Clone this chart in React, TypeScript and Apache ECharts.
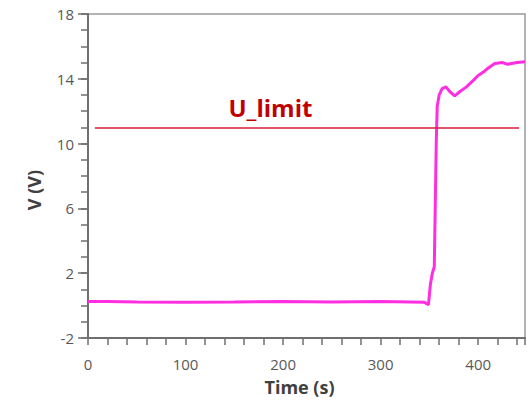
import React, { useEffect, useRef } from "react";
import * as echarts from "echarts";

const timeS = [0, 20, 50, 100, 150, 200, 250, 300, 330, 345, 349, 351, 353, 355, 357, 358, 360, 363, 367, 371, 376, 381, 388, 395, 400, 405, 410, 417, 425, 430, 440, 448];
const voltV = [0.25, 0.25, 0.22, 0.2, 0.22, 0.25, 0.22, 0.25, 0.22, 0.2, 0.05, 1.3, 2.0, 2.4, 10, 12.3, 13.0, 13.4, 13.5, 13.2, 12.95, 13.2, 13.5, 13.9, 14.2, 14.4, 14.65, 14.95, 15.0, 14.9, 15.0, 15.05];
const yLabels = [-2, 2, 6, 10, 14, 18];
const yMinor = [-2, -1, 0, 1, 2, 3, 4, 5, 6, 7, 8, 9, 10, 11, 12, 13, 14, 15, 16, 17, 18];
const xLabels = [0, 100, 200, 300, 400];
const uLimit = 11;
const uLimitStart = 7;
const uLimitEnd = 442;
const uLimitLabelAt = 187;

export default function App() {
  const ref = useRef<HTMLDivElement>(null);
  useEffect(() => {
    const chart = echarts.init(ref.current!, null, { renderer: "svg" });
    const gray = "#6f6f6f";
    const labelColor = "#595959";
    chart.setOption({
      animation: false,
      backgroundColor: "#ffffff",
      grid: {
        left: 88, right: 4, top: 14, bottom: 62,
        containLabel: false, outerBoundsMode: "none",
        show: true, borderColor: "#9a9a9a", borderWidth: 1.5,
      },
      xAxis: {
        type: "value",
        min: 0,
        max: 448,
        interval: 20,
        name: "Time (s)",
        nameLocation: "middle",
        nameGap: 40,
        nameTextStyle: { fontSize: 18, fontWeight: "bold", color: "#404040", fontFamily: "Open Sans", padding: [0, 14, 0, 0] },
        axisLine: { show: true, onZero: false, lineStyle: { color: gray, width: 2 } },
        axisTick: { show: true, length: 7, lineStyle: { color: gray, width: 1.5 } },
        axisLabel: { customValues: xLabels, fontSize: 15, color: labelColor, margin: 18, fontFamily: "Open Sans" },
        splitLine: { show: false },
      },
      yAxis: [
        {
          type: "value",
          min: -2,
          max: 18,
          interval: 1,
          name: "V (V)",
          nameLocation: "middle",
          nameGap: 45,
          nameRotate: 90,
          nameTextStyle: { fontSize: 18, fontWeight: "bold", color: "#404040", fontFamily: "Open Sans", padding: [0, 0, 0, -28] },
          axisLine: { show: true, onZero: false, lineStyle: { color: gray, width: 2 } },
          axisTick: { show: true, customValues: yLabels, length: 10, lineStyle: { color: gray, width: 1.5 } },
          axisLabel: { customValues: yLabels, fontSize: 15, color: labelColor, margin: 14, fontFamily: "Open Sans" },
          splitLine: { show: false },
        },
        {
          type: "value",
          min: -2,
          max: 18,
          interval: 1,
          position: "left",
          axisLine: { show: false, onZero: false },
          axisTick: { show: true, customValues: yMinor, length: 7, lineStyle: { color: gray, width: 1.5 } },
          axisLabel: { show: false },
          splitLine: { show: false },
        },
      ],
      series: [
        {
          type: "line",
          data: timeS.map((t, i) => [t, voltV[i]]),
          showSymbol: false,
          symbol: "none",
          lineStyle: { color: "#ff2ee0", width: 3 },
          markLine: {
            silent: true,
            symbol: "none",
            lineStyle: { color: "#d81e3c", width: 1.5, type: "solid" },
            label: { show: false },
            data: [[{ coord: [uLimitStart, uLimit] }, { coord: [uLimitEnd, uLimit] }]],
          },
          markPoint: {
            silent: true,
            symbol: "circle",
            symbolSize: 0,
            data: [
              {
                coord: [uLimitLabelAt, uLimit],
                label: {
                  show: true,
                  formatter: "U_limit",
                  offset: [0, -20],
                  fontSize: 24,
                  fontWeight: "bold",
                  color: "#c00000",
                  fontFamily: "Open Sans",
                },
              },
            ],
          },
        },
      ],
    });
    return () => chart.dispose();
  }, []);
  return <div ref={ref} style={{ width: 529, height: 400, position: "absolute", left: 0, top: 0 }} />;
}
